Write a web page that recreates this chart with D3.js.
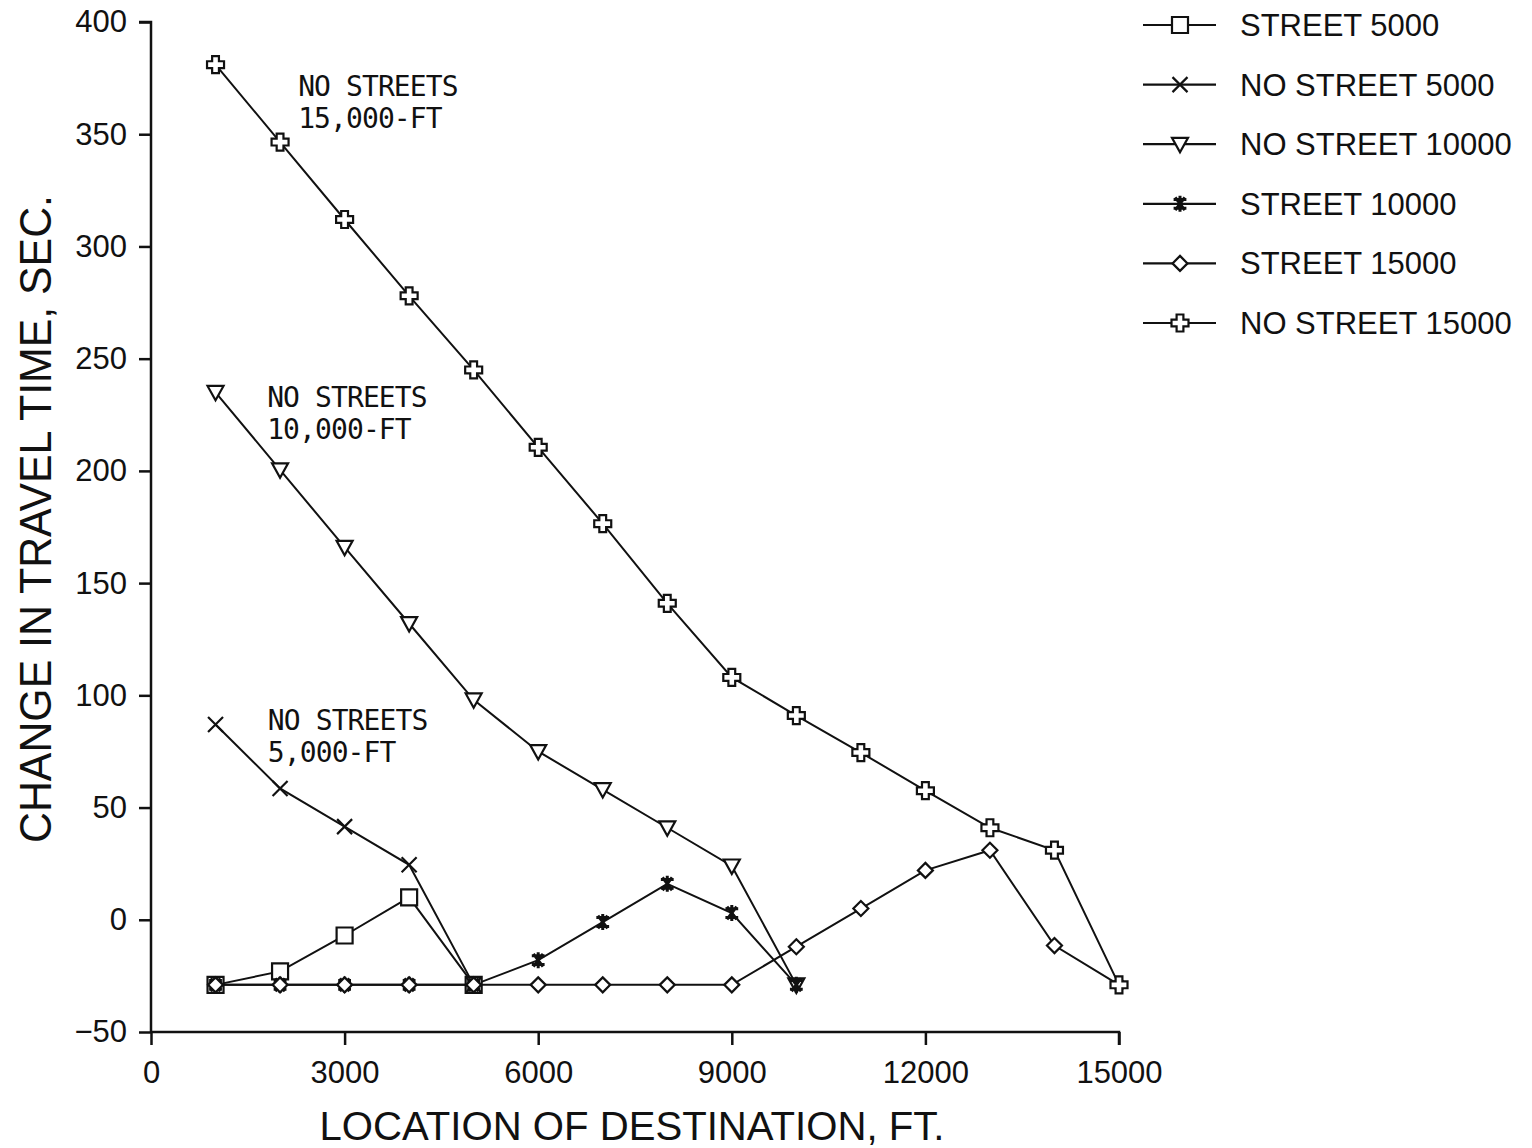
<!DOCTYPE html>
<html>
<head>
<meta charset="utf-8">
<script src="https://cdn.jsdelivr.net/npm/d3@7"></script>
<style>
  body { margin: 0; background: #fff; }
  svg text { fill: #111; }
</style>
</head>
<body>
<div id="chart"></div>
<script>
// data
const locations = [1000, 2000, 3000, 4000, 5000, 6000, 7000, 8000, 9000, 10000, 11000, 12000, 13000, 14000, 15000];

const street5000    = [-29, -23, -7, 10, -29];
const noStreet5000  = [87, 58.5, 41.5, 24.5, -29];
const noStreet10000 = [235, 200.5, 166, 132, 98, 75, 58, 41, 24, -29];
const street10000   = [-29, -29, -29, -29, -29, -18, -1, 16, 3, -29];
const street15000   = [-29, -29, -29, -29, -29, -29, -29, -29, -29, -12, 5, 22, 31, -11.5, -29];
const noStreet15000 = [381, 346.5, 312, 278, 245, 210.5, 176.5, 141, 108, 91, 74.5, 57.5, 41, 31, -29];

const seriesNames = ["STREET 5000", "NO STREET 5000", "NO STREET 10000", "STREET 10000", "STREET 15000", "NO STREET 15000"];
const seriesValues = [street5000, noStreet5000, noStreet10000, street10000, street15000, noStreet15000];
const seriesMarkers = ["square", "x", "triangle", "asterisk", "diamond", "cross"];

const xTicks = [0, 3000, 6000, 9000, 12000, 15000];
const yTicks = [-50, 0, 50, 100, 150, 200, 250, 300, 350, 400];

const notes = [
  {x: 2280, y: 367, lines: ["NO STREETS", "15,000-FT"]},
  {x: 1800, y: 228.5, lines: ["NO STREETS", "10,000-FT"]},
  {x: 1810, y: 84.6, lines: ["NO STREETS", "5,000-FT"]}
];

const width = 1532, height = 1148;

const svg = d3.select("#chart").append("svg")
  .attr("width", width)
  .attr("height", height)
  .style("font-family", "'Liberation Sans', Arial, sans-serif");

const x = d3.scaleLinear().domain([0, 15000]).range([151, 1119]);
const y = d3.scaleLinear().domain([-50, 400]).range([1032, 22]);

// marker shapes, drawn around 0,0
function markerPath(type, s) {
  const p = d3.path();
  if (type === "square") {
    p.rect(-s, -s, 2 * s, 2 * s);
  } else if (type === "x") {
    p.moveTo(-s, -s); p.lineTo(s, s);
    p.moveTo(s, -s); p.lineTo(-s, s);
  } else if (type === "triangle") {
    p.moveTo(-s, -s * 0.8); p.lineTo(s, -s * 0.8); p.lineTo(0, s); p.closePath();
  } else if (type === "diamond") {
    p.moveTo(0, -s); p.lineTo(s, 0); p.lineTo(0, s); p.lineTo(-s, 0); p.closePath();
  } else if (type === "cross") {
    const a = s * 0.4;
    p.moveTo(-a, -s); p.lineTo(a, -s); p.lineTo(a, -a); p.lineTo(s, -a);
    p.lineTo(s, a); p.lineTo(a, a); p.lineTo(a, s); p.lineTo(-a, s);
    p.lineTo(-a, a); p.lineTo(-s, a); p.lineTo(-s, -a); p.lineTo(-a, -a); p.closePath();
  } else if (type === "asterisk") {
    p.moveTo(0, -s); p.lineTo(0, s);
    p.moveTo(-s * 0.8, -s * 0.55); p.lineTo(s * 0.8, -s * 0.55);
    p.moveTo(-s * 0.8, s * 0.55); p.lineTo(s * 0.8, s * 0.55);
    p.moveTo(-s * 0.6, -s * 0.8); p.lineTo(s * 0.6, s * 0.8);
    p.moveTo(s * 0.6, -s * 0.8); p.lineTo(-s * 0.6, s * 0.8);
  }
  return p.toString();
}
const markerSize = {square: 8, x: 7.5, triangle: 8, asterisk: 8, diamond: 7.5, cross: 8.5};

function drawMarker(g, type) {
  g.append("path")
    .attr("d", markerPath(type, markerSize[type]))
    .attr("fill", (type === "x" || type === "asterisk") ? "none" : "#fff")
    .attr("stroke", "#111")
    .attr("stroke-width", type === "asterisk" ? 3 : 2.2);
}

// axes
const yAxis = d3.axisLeft(y).tickValues(yTicks).tickSize(12).tickPadding(12);
const xAxis = d3.axisBottom(x).tickValues(xTicks).tickSize(13).tickPadding(10).tickFormat(d3.format("d"));

const gy = svg.append("g").attr("transform", "translate(151,0)").call(yAxis);
const gx = svg.append("g").attr("transform", "translate(0,1032)").call(xAxis);

[gx, gy].forEach(g => {
  g.select(".domain").attr("stroke", "#111").attr("stroke-width", 2.5)
    .attr("d", g === gx ? "M151,0H1119V13" : "M0,1032V22H-12");
  g.selectAll(".tick line").attr("stroke", "#111").attr("stroke-width", 2.5);
  g.selectAll(".tick text").attr("font-size", 31).attr("fill", "#111")
    .attr("font-family", "'Liberation Sans', Arial, sans-serif");
});
gy.selectAll(".tick text").text(d => d < 0 ? "\u2212" + Math.abs(d) : d);
gx.selectAll(".tick text").attr("dy", "0.9em");

// axis titles
svg.append("text")
  .attr("x", 632).attr("y", 1140)
  .attr("text-anchor", "middle")
  .attr("font-size", 41)
  .attr("textLength", 625).attr("lengthAdjust", "spacingAndGlyphs")
  .text("LOCATION OF DESTINATION, FT.");

svg.append("text")
  .attr("transform", "translate(51,519) rotate(-90)")
  .attr("text-anchor", "middle")
  .attr("font-size", 45)
  .attr("textLength", 648).attr("lengthAdjust", "spacingAndGlyphs")
  .text("CHANGE IN TRAVEL TIME, SEC.");

// series
const line = d3.line().x((d, i) => x(locations[i])).y(d => y(d));
const plot = svg.append("g");

seriesValues.forEach((vals, k) => {
  plot.append("path")
    .datum(vals)
    .attr("d", line)
    .attr("fill", "none")
    .attr("stroke", "#111")
    .attr("stroke-width", 2);
});
seriesValues.forEach((vals, k) => {
  vals.forEach((v, i) => {
    const g = plot.append("g").attr("transform", `translate(${x(locations[i])},${y(v)})`);
    drawMarker(g, seriesMarkers[k]);
  });
});

// annotations
notes.forEach(n => {
  const t = svg.append("text")
    .attr("x", x(n.x)).attr("y", y(n.y))
    .attr("font-family", "'DejaVu Sans Mono', monospace")
    .attr("font-size", 28)
    .attr("letter-spacing", -0.9);
  n.lines.forEach((l, i) => {
    t.append("tspan").attr("x", x(n.x)).attr("dy", i === 0 ? 0 : 32).text(l);
  });
});

// legend
const legend = svg.append("g").attr("transform", "translate(1143,25)");
seriesNames.forEach((name, k) => {
  const row = legend.append("g").attr("transform", `translate(0,${k * 59.6})`);
  row.append("line").attr("x1", 0).attr("x2", 73).attr("y1", 0).attr("y2", 0)
    .attr("stroke", "#111").attr("stroke-width", 2.2);
  const m = row.append("g").attr("transform", "translate(37,0)");
  drawMarker(m, seriesMarkers[k]);
  row.append("text").attr("x", 97).attr("y", 11)
    .attr("font-size", 31)
    .text(name);
});
</script>
</body>
</html>
